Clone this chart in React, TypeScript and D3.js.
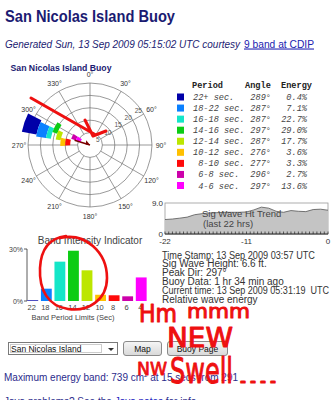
import React from "react";
import * as d3 from "d3";

const bandLabels = ["22+", "18-22", "16-18", "14-16", "12-14", "10-12", "8-10", "6-8", "4-6"];
const bandTicks = ["22", "18", "16", "14", "12", "10", "8", "6", "4"];
const bandLo = [22, 18, 16, 14, 12, 10, 8, 6, 4];
const bandHi = [28, 22, 18, 16, 14, 12, 10, 8, 6];
const bandAngles = [289, 287, 287, 297, 287, 276, 277, 296, 297];
const bandEnergy = [0.4, 7.1, 22.7, 29.0, 17.7, 3.6, 3.3, 2.7, 13.6];
const bandColors = ["#0000a8", "#0a80ff", "#14e6c8", "#0ccc14", "#bce600", "#ffc000", "#ff0a0a", "#cc00aa", "#ff00ff"];
const ringValues = [5, 10, 15, 20, 25];
const compassAngles = [0, 30, 60, 90, 120, 150, 180, 210, 240, 270, 300, 330];
const trendHours = [-22, -21, -20, -19, -18, -17, -16, -15, -14, -13, -12, -11, -10, -9, -8, -7, -6, -5, -4, -3, -2, -1, 0];
const trendHeights = [4.2, 4.35, 4.6, 4.9, 5.6, 5.9, 6.1, 6.2, 6.3, 6.3, 6.3, 6.4, 7.0, 7.8, 7.5, 6.6, 6.3, 6.8, 6.6, 6.5, 7.1, 7.2, 6.9];
const trendXTicks = [-22, -11, 0];
const infoLines = [
  "Time Stamp: 13 Sep 2009 03:57 UTC",
  "Sig Wave Height: 6.6 ft.",
  "Peak Dir: 297\u00b0",
  "Buoy Data: 1 hr 34 min ago",
  "Current time: 13 Sep 2009 05:31:19  UTC",
  "Relative wave energy",
];
const peakDir = 287;

const NAVY = "#1b1b72";
const SANS = "'Liberation Sans', Arial, sans-serif";
const MONO = "'Liberation Mono', 'Courier New', monospace";
const RED = "#ee1010";

function Polar() {
  const cx = 90, cy = 145;
  const r = d3.scaleLinear().domain([0, 25]).range([0, 62]);
  const rad = (deg: number) => (deg * Math.PI) / 180;
  const arc = d3.arc<any>();
  const pt = (deg: number, rr: number) => [Math.sin(rad(deg)) * rr, -Math.cos(rad(deg)) * rr];
  const a0 = pt(peakDir, r(6.5));
  return (
    <g transform={`translate(${cx},${cy})`}>
      {ringValues.map((v) => (
        <circle key={v} r={r(v)} fill="none" stroke="#6e6e6e" strokeWidth={0.7} />
      ))}
      {compassAngles.map((a) => {
        const p1 = pt(a, r(5));
        const p2 = pt(a, r(25));
        return <line key={a} x1={p1[0]} y1={p1[1]} x2={p2[0]} y2={p2[1]} stroke="#6e6e6e" strokeWidth={0.7} />;
      })}
      {compassAngles.map((a) => {
        const p = pt(a, 71);
        return (
          <text key={"l" + a} x={p[0]} y={p[1] + 2.5} fontSize={7} fontFamily={SANS} fill="#333" textAnchor="middle">
            {a}°
          </text>
        );
      })}
      {ringValues.map((v) => {
        const p = pt(55, r(v) - 3);
        return (
          <text key={"r" + v} x={p[0]} y={p[1] + 2} fontSize={6.5} fontFamily={SANS} fill="#555" textAnchor="middle">
            {v}
          </text>
        );
      })}
      {bandLabels.map((b, i) => (
        <path
          key={b}
          d={arc({
            innerRadius: r(bandLo[i]),
            outerRadius: r(bandHi[i]),
            startAngle: rad(bandAngles[i] - 8),
            endAngle: rad(bandAngles[i] + 8),
          }) as string}
          fill={bandColors[i]}
        />
      ))}
      <line x1={a0[0]} y1={a0[1]} x2={0} y2={0} stroke="#7a0000" strokeWidth={1.5} />
      <path d="M0,0 L-5,-3.5 L-4.2,0.8 Z" fill="#7a0000" transform={`rotate(${peakDir - 270})`} />
    </g>
  );
}

function Legend() {
  const x0 = 177;
  const y = d3.scaleLinear().domain([0, 8]).range([97, 185.5]);
  const rowText = ["22+ sec.", "18-22 sec.", "16-18 sec.", "14-16 sec.", "12-14 sec.", "10-12 sec.", " 8-10 sec.", " 6-8 sec.", " 4-6 sec."];
  return (
    <g>
      <text x={192} y={88} fontFamily={MONO} fontWeight="bold" fontSize={8.6} fill="#222">Period</text>
      <text x={245} y={88} fontFamily={MONO} fontWeight="bold" fontSize={8.6} fill="#222">Angle</text>
      <text x={281} y={88} fontFamily={MONO} fontWeight="bold" fontSize={8.6} fill="#222">Energy</text>
      {bandLabels.map((b, i) => (
        <g key={b}>
          <rect x={x0} y={y(i) - 3.5} width={7} height={7} fill={bandColors[i]} />
          <text x={193} y={y(i) + 3} fontFamily={MONO} fontStyle="italic" fontSize={8.6} fill="#444" xmlSpace="preserve" style={{ whiteSpace: "pre" }}>
            {rowText[i]}
          </text>
          <text x={271} y={y(i) + 3} fontFamily={MONO} fontStyle="italic" fontSize={8.6} fill="#444" textAnchor="end">
            {bandAngles[i]}°
          </text>
          <text x={307} y={y(i) + 3} fontFamily={MONO} fontStyle="italic" fontSize={8.6} fill="#444" textAnchor="end">
            {bandEnergy[i].toFixed(1)}%
          </text>
        </g>
      ))}
    </g>
  );
}

function Trend() {
  const x = d3.scaleLinear().domain([-22, 0]).range([165, 328]);
  const y = d3.scaleLinear().domain([0, 9]).range([234, 203]);
  const area = d3
    .area<number>()
    .x((_, i) => x(trendHours[i]))
    .y0(y(0))
    .y1((d) => y(d));
  const line = d3
    .line<number>()
    .x((_, i) => x(trendHours[i]))
    .y((d) => y(d));
  const minorTicks = d3.range(-22, 0.5, 0.5);
  return (
    <g>
      <rect x={165} y={203} width={163} height={31} fill="#fff" stroke="#999" strokeWidth={0.8} />
      <path d={area(trendHeights) as string} fill="#c4c4c4" />
      <path d={line(trendHeights) as string} fill="none" stroke="#555" strokeWidth={0.8} />
      <line x1={165} x2={328} y1={234} y2={234} stroke="#222" strokeWidth={1} />
      {minorTicks.map((t) => (
        <line key={t} x1={x(t)} x2={x(t)} y1={234} y2={231.5} stroke="#222" strokeWidth={0.7} />
      ))}
      <text x={163} y={206} fontSize={8} fontFamily={SANS} fill="#333" textAnchor="end">9.0</text>
      <text x={163} y={237} fontSize={8} fontFamily={SANS} fill="#333" textAnchor="end">0</text>
      {trendXTicks.map((t) => (
        <text key={t} x={x(t)} y={243.5} fontSize={8} fontFamily={SANS} fill="#333" textAnchor="middle">
          {t}
        </text>
      ))}
      <text x={202} y={217} fontSize={9.5} fontFamily={SANS} fill="#444">Sig Wave Ht Trend</text>
      <text x={203} y={227} fontSize={9.5} fontFamily={SANS} fill="#444">(last 22 hrs)</text>
    </g>
  );
}

function Bars() {
  const x = d3.scaleBand<string>().domain(bandTicks).range([26, 148]).paddingInner(0.2).paddingOuter(0.1);
  const y = d3.scaleLinear().domain([0, 30]).range([301, 249]);
  return (
    <g>
      <text x={90} y={244} fontSize={10} fontFamily={SANS} fill="#444" textAnchor="middle">Band Intensity Indicator</text>
      <line x1={27} x2={27} y1={249} y2={301} stroke="#333" strokeWidth={0.8} />
      <line x1={24} x2={27} y1={249} y2={249} stroke="#333" strokeWidth={0.8} />
      <line x1={24} x2={27} y1={301} y2={301} stroke="#333" strokeWidth={0.8} />
      <text x={23} y={252} fontSize={7} fontFamily={SANS} fill="#444" textAnchor="end">30%</text>
      <text x={23} y={303.5} fontSize={7} fontFamily={SANS} fill="#444" textAnchor="end">0%</text>
      {bandTicks.map((t, i) => (
        <g key={t}>
          <rect x={x(t)} y={y(bandEnergy[i])} width={x.bandwidth()} height={y(0) - y(bandEnergy[i])} fill={bandColors[i]} />
          <text x={(x(t) as number) + x.bandwidth() / 2 - 1} y={310} fontSize={7.5} fontFamily={SANS} fill="#444" textAnchor="middle">
            {t}
          </text>
        </g>
      ))}
      <text x={73} y={319.5} fontSize={7.5} fontFamily={SANS} fill="#444" textAnchor="middle">Band Period Limits (Sec)</text>
    </g>
  );
}

function Info() {
  const y = d3.scaleLinear().domain([0, 5]).range([258.5, 302.5]);
  return (
    <g>
      {infoLines.map((l, i) => (
        <text key={i} x={162} y={y(i)} fontSize={10} fontFamily={SANS} fill="#333" xmlSpace="preserve" style={{ whiteSpace: "pre" }}
          textLength={i === 0 ? 153 : i === 4 ? 167 : undefined} lengthAdjust="spacingAndGlyphs">
          {l}
        </text>
      ))}
    </g>
  );
}

function Controls() {
  return (
    <g fontFamily={SANS}>
      <defs>
        <linearGradient id="btn" x1="0" y1="0" x2="0" y2="1">
          <stop offset="0" stopColor="#f6f6f6" />
          <stop offset="1" stopColor="#d8d8d8" />
        </linearGradient>
      </defs>
      <rect x={8.5} y={342.5} width={109} height={12} fill="#fff" stroke="#7a7a7a" />
      <rect x={10.5} y={344.5} width={91} height={8} fill="none" stroke="#555" strokeDasharray="1,1" strokeWidth={0.6} />
      <text x={11} y={351.5} fontSize={8.5} fill="#111">San Nicolas Island</text>
      <path d="M108,348 L114,348 L111,351 Z" fill="#333" />
      <rect x={123.5} y={341.5} width={38} height={14} rx={2.5} fill="url(#btn)" stroke="#8a8a8a" />
      <text x={142.5} y={351.5} fontSize={8.5} fill="#111" textAnchor="middle">Map</text>
      <rect x={167.5} y={341.5} width={60} height={14} rx={2.5} fill="url(#btn)" stroke="#8a8a8a" />
      <text x={197.5} y={351.5} fontSize={8.5} fill="#111" textAnchor="middle">Buoy Page</text>
      <text x={4} y={381} fontSize={10} fill="#2b2b8c">
        Maximum energy band: 739 cm<tspan dy={-4} fontSize={6}>2</tspan><tspan dy={4}> at 15 secs from 291</tspan>
      </text>
      <text x={4} y={405} fontSize={10} fill="#2b2b8c">
        Java problems? See the <tspan fill="#2020c0">Java notes</tspan> for info
      </text>
    </g>
  );
}

function Scribbles() {
  const hand = "'DejaVu Sans', sans-serif";
  return (
    <g fill={RED} stroke={RED} fontFamily={hand} strokeLinecap="round" strokeLinejoin="round">
      {/* arrow on polar plot */}
      <path d="M31,98 L95,134.5 M85,120 L93,136 L106,131" fill="none" strokeWidth={3} />
      {/* circle around bars */}
      <path
        d="M60,238 C85,232 107,252 107,278 C107,300 88,312 68,309 C48,306 39,290 40,268 C41,248 50,238 66,236"
        fill="none"
        strokeWidth={2.6}
      />
      <text x={139} y={322} fontSize={24} strokeWidth={1} textLength={38} lengthAdjust="spacingAndGlyphs">Hm</text>
      <text x={187} y={318} fontSize={20} strokeWidth={1} textLength={63} lengthAdjust="spacingAndGlyphs">mmm</text>
      <text x={167} y={347} fontSize={26} strokeWidth={1} textLength={66} lengthAdjust="spacingAndGlyphs">NEW</text>
      <text x={137} y={375} fontSize={17} strokeWidth={0.8} textLength={30} lengthAdjust="spacingAndGlyphs">NW</text>
      <text x={170} y={383} fontSize={36} strokeWidth={1} textLength={63} lengthAdjust="spacingAndGlyphs">Swell</text>
      <text x={238} y={383} fontSize={16} strokeWidth={1.2} textLength={40} lengthAdjust="spacingAndGlyphs">....</text>
    </g>
  );
}

export default function App() {
  return (
    <svg width={335} height={400} style={{ position: "absolute", left: 0, top: 0, background: "#fff" }}>
      <rect width={335} height={400} fill="#fff" />
      <text x={5} y={22} fontFamily={SANS} fontWeight="bold" fontSize={16} fill={NAVY} textLength={170} lengthAdjust="spacingAndGlyphs">
        San Nicolas Island Buoy
      </text>
      <text x={5} y={47.5} fontFamily={SANS} fontStyle="italic" fontSize={10.5} fill={NAVY} textLength={235} lengthAdjust="spacingAndGlyphs">
        Generated Sun, 13 Sep 2009 05:15:02 UTC courtesy
      </text>
      <text x={244} y={47.5} fontFamily={SANS} fontSize={10.5} fill="#1c1cb0" textDecoration="underline" textLength={70} lengthAdjust="spacingAndGlyphs">
        9 band at CDIP
      </text>
      <text x={10.5} y={71} fontFamily={SANS} fontWeight="bold" fontSize={9} fill={NAVY} textLength={101} lengthAdjust="spacingAndGlyphs">
        San Nicolas Island Buoy
      </text>
      <Polar />
      <Legend />
      <Trend />
      <Bars />
      <Info />
      <Controls />
      <Scribbles />
    </svg>
  );
}
